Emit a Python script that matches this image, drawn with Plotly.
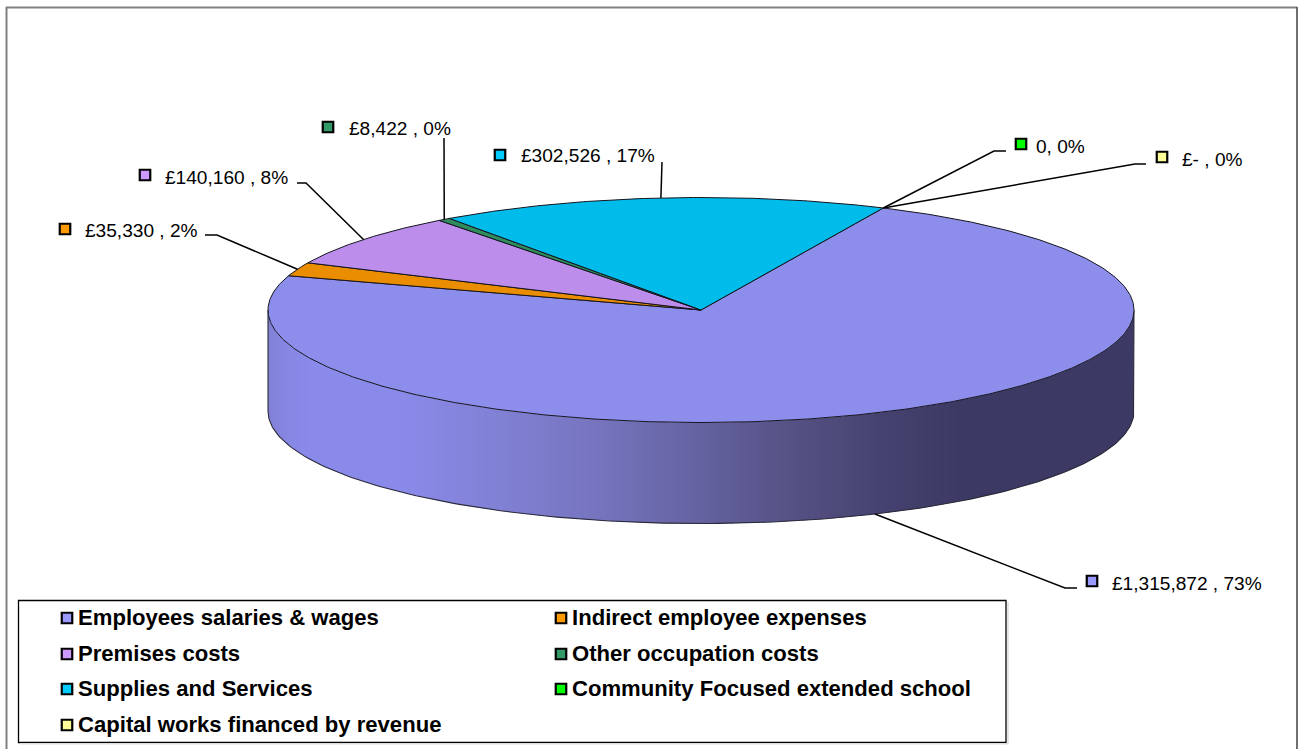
import numpy as np
import plotly.graph_objects as go

# Budget categories and amounts (pounds), in drawing order clockwise from the first slice
categories = [
    "Employees salaries & wages",
    "Indirect employee expenses",
    "Premises costs",
    "Other occupation costs",
    "Supplies and Services",
    "Community Focused extended school",
    "Capital works financed by revenue",
]
values = [1315872, 35330, 140160, 8422, 302526, 0, 0]
value_labels = [
    "£1,315,872 , 73%",
    "£35,330 , 2%",
    "£140,160 , 8%",
    "£8,422 , 0%",
    "£302,526 , 17%",
    "0, 0%",
    "£- , 0%",
]
key_colors = ["#9999FF", "#FF9900", "#CC99FF", "#339966", "#00CCFF", "#00FF00", "#FFFF99"]

# Disc geometry on a canvas measured in screen pixels
W, H = 1298, 749
CX, CY, RX, RY, DEPTH = 701.0, 310.0, 433.0, 112.5, 101.0
START_DEG = 24.9
TOP_SHADE = 0.92

# Label placement: key centre, text start, text centre line, leader elbow points
label_layout = [
    dict(key=(1092, 581), text=(1112, 583), elbow=[(1065, 588), (1077, 588)]),
    dict(key=(65, 229), text=(85, 230), elbow=[(217, 235), (205, 235)]),
    dict(key=(145, 175), text=(165, 177), elbow=[(306, 183), (297, 183)]),
    dict(key=(328, 127), text=(349, 128), elbow=[(444, 138)]),
    dict(key=(500, 155), text=(521, 155), elbow=[(662, 162)]),
    dict(key=(1021, 144), text=(1036, 146), elbow=[(994, 151), (1006, 151)]),
    dict(key=(1162, 157), text=(1182, 159), elbow=[(1135, 164), (1146, 164)]),
]
# Legend rows: key centre x, text start x, centre line y
legend_rows = [
    (67, 78, 618), (561, 572, 618),
    (67, 78, 654), (561, 572, 654),
    (67, 78, 689), (561, 572, 689),
    (67, 78, 725),
]
LEGEND_TEXT_DY = -1

# Lighting along the outer wall: horizontal position against grey-blue colour
wall_x = [268, 285, 310, 400, 500, 600, 700, 800, 880, 960, 1134]
wall_r = [128, 134, 138, 138, 128, 118, 100, 84, 70, 60, 60]
wall_g = [128, 134, 138, 138, 128, 116, 98, 80, 66, 58, 58]
wall_b = [212, 226, 234, 234, 212, 190, 160, 130, 112, 100, 100]


def shade(hex_color, factor):
    r, g, b = (int(hex_color[i:i + 2], 16) for i in (1, 3, 5))
    return f"rgb({round(r * factor)},{round(g * factor)},{round(b * factor)})"


def rim(angle_deg):
    a = np.radians(angle_deg)
    return CX + RX * np.sin(a), CY - RY * np.cos(a)


fig = go.Figure()


def poly(xs, ys, fill=None, line=None, width=0.0):
    fig.add_trace(go.Scatter(
        x=xs, y=ys, mode="lines", fill="toself" if fill else "none",
        fillcolor=fill, line=dict(color=line or "rgba(0,0,0,0)", width=width),
        hoverinfo="skip", showlegend=False,
    ))


# Outer wall as narrow shaded bands
step = 3.0
for x0 in np.arange(CX - RX, CX + RX, step):
    xs = np.linspace(x0, min(x0 + step + 0.6, CX + RX), 5)
    top = CY + RY * np.sqrt(np.clip(1 - ((xs - CX) / RX) ** 2, 0, 1))
    mid = float(x0 + step / 2)
    color = (f"rgb({round(np.interp(mid, wall_x, wall_r))},"
             f"{round(np.interp(mid, wall_x, wall_g))},"
             f"{round(np.interp(mid, wall_x, wall_b))})")
    poly(list(xs) + list(xs[::-1]), list(top) + list((top + DEPTH)[::-1]), fill=color)

# Wall outline
front = np.linspace(90, 270, 200)
fx, fy = rim(front)
poly([CX + RX] + list(fx) + [CX - RX],
     [CY] + list(fy + DEPTH) + [CY], line="#2a2a3a", width=1.1)

# Top face slices, each swept from its share of the total
total = sum(values)
angle = START_DEG
mid_angles = []
for value, color in zip(values, key_colors):
    sweep = 360.0 * value / total
    mid_angles.append(angle + sweep / 2)
    if value > 0:
        th = np.linspace(angle, angle + sweep, max(int(sweep * 2), 6))
        rx_pts, ry_pts = rim(th)
        poly([CX] + list(rx_pts) + [CX], [CY] + list(ry_pts) + [CY],
             fill=shade(color, TOP_SHADE), line="#14141f", width=1.0)
    angle += sweep

# Leader lines from each slice out to its label
for i, (mid, spec) in enumerate(zip(mid_angles, label_layout)):
    sx, sy = rim(mid)
    if i == 0:
        sy += DEPTH
    pts = [(float(sx), float(sy))] + spec["elbow"]
    poly([p[0] for p in pts], [p[1] for p in pts], line="#000000", width=1.5)

# Value label keys
fig.add_trace(go.Scatter(
    x=[s["key"][0] for s in label_layout], y=[s["key"][1] for s in label_layout],
    mode="markers", hoverinfo="skip", showlegend=False,
    marker=dict(symbol="square", size=10.5, color=key_colors, line=dict(color="#000000", width=2.2)),
))

# Legend keys
fig.add_trace(go.Scatter(
    x=[r[0] for r in legend_rows], y=[r[2] for r in legend_rows],
    mode="markers", hoverinfo="skip", showlegend=False,
    marker=dict(symbol="square", size=10.5, color=key_colors, line=dict(color="#000000", width=2.2)),
))

annotations = []
for text, spec in zip(value_labels, label_layout):
    annotations.append(dict(
        x=spec["text"][0], y=spec["text"][1], text=text, showarrow=False,
        xanchor="left", yanchor="middle", xshift=-2,
        font=dict(family="Liberation Sans", size=19.1, color="#000000"),
    ))
for name, (_, tx, ty) in zip(categories, legend_rows):
    annotations.append(dict(
        x=tx, y=ty + LEGEND_TEXT_DY, text=f"<b>{name}</b>", showarrow=False,
        xanchor="left", yanchor="middle", xshift=-2,
        font=dict(family="Liberation Sans", size=22.1, color="#000000"),
    ))

shapes = [
    # Chart frame, open at the bottom
    dict(type="line", x0=6.5, x1=6.5, y0=7, y1=H, line=dict(color="#808080", width=2)),
    dict(type="line", x0=6, x1=1297, y0=7.5, y1=7.5, line=dict(color="#808080", width=2)),
    dict(type="line", x0=1297, x1=1297, y0=7, y1=H, line=dict(color="#404040", width=1.5)),
    # Legend box with a faint shadow
    dict(type="line", x0=1008, x1=1008, y0=602, y1=744, line=dict(color="#dddddd", width=1.5)),
    dict(type="line", x0=20, x1=1008, y0=743.8, y1=743.8, line=dict(color="#dddddd", width=1.5)),
    dict(type="rect", x0=18.5, x1=1006, y0=600.5, y1=742.5,
         line=dict(color="#000000", width=1.3), fillcolor="#ffffff", layer="below"),
]

fig.update_layout(
    width=W, height=H, margin=dict(l=0, r=0, t=0, b=0),
    paper_bgcolor="#ffffff", plot_bgcolor="#ffffff",
    xaxis=dict(range=[0, W], visible=False, fixedrange=True),
    yaxis=dict(range=[H, 0], visible=False, fixedrange=True),
    shapes=shapes, annotations=annotations, showlegend=False,
)

fig.write_html("out.html", config={"displayModeBar": False})
